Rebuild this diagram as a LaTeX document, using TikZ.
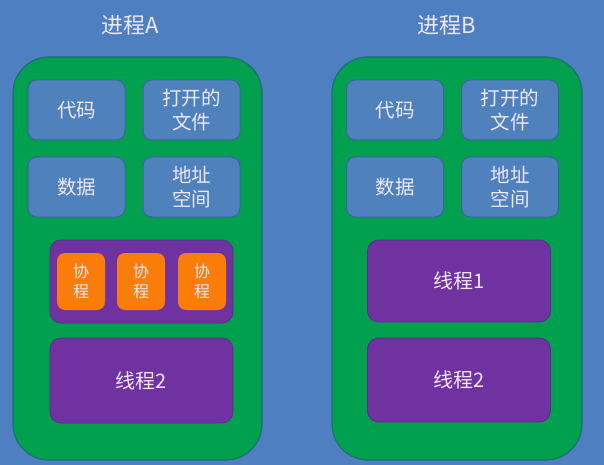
\documentclass[tikz,border=0pt]{standalone}
\usepackage{fontspec}
\setmainfont{Noto Sans CJK SC}
\definecolor{bgblue}{HTML}{4E7FC0}
\definecolor{procgreen}{HTML}{00A04E}
\definecolor{procedge}{HTML}{1E6E78}
\definecolor{boxblue}{HTML}{4F81BD}
\definecolor{boxedge}{HTML}{3A66A0}
\definecolor{thrpurple}{HTML}{7032A0}
\definecolor{thredge}{HTML}{5E2A8C}
\definecolor{coorange}{HTML}{FA7D0A}
\definecolor{txtlight}{HTML}{EEE8F4}
\begin{document}
\begin{tikzpicture}[x=1pt,y=-1pt,
  proc/.style={draw=procedge,line width=1.2pt,fill=procgreen,rounded corners=36pt,inner sep=0pt,minimum width=#1,minimum height=403pt},
  res/.style={draw=boxedge,line width=1pt,fill=boxblue,rounded corners=9pt,inner sep=0pt,minimum width=97pt,minimum height=60pt,text=txtlight,align=center,font=\fontsize{19.5}{23.5}\selectfont},
  thr/.style={draw=thredge,line width=0.8pt,fill=thrpurple,rounded corners=11pt,inner sep=0pt,minimum width=183pt,minimum height=#1,text=txtlight,font=\fontsize{20}{24}\selectfont},
  coro/.style={fill=coorange,rounded corners=8pt,inner sep=0pt,minimum width=48pt,minimum height=57pt,text=txtlight,align=center,font=\fontsize{16}{20}\selectfont},
  title/.style={text=txtlight,font=\fontsize{22}{26}\selectfont}]
\useasboundingbox[fill=bgblue] (0,0) rectangle (604,465);
% titles
\node[title] (tA) at (130,25) {进程A};
\node[title] (tB) at (447,25) {进程B};
% process containers
\node[proc=249pt] (procA) at (137.5,258.5) {};
\node[proc=250pt] (procB) at (457,258.5) {};
% process A resources
\node[res] (codeA) at (76.5,110) {代码};
\node[res] (fileA) at (191.5,110) {打开的\\文件};
\node[res] (dataA) at (76.5,187) {数据};
\node[res] (addrA) at (191.5,187) {地址\\空间};
% process B resources
\node[res] (codeB) at (395,110) {代码};
\node[res] (fileB) at (510,110) {打开的\\文件};
\node[res] (dataB) at (395,187) {数据};
\node[res] (addrB) at (510,187) {地址\\空间};
% process A threads
\node[thr=83pt] (thrA1) at (141.5,281.5) {};
\node[coro] (co1) at (81,281.5) {协\\程};
\node[coro] (co2) at (141,281.5) {协\\程};
\node[coro] (co3) at (202,281.5) {协\\程};
\node[thr=85pt] (thrA2) at (141.5,380.5) {线程2};
% process B threads
\node[thr=82pt] (thrB1) at (459,281) {线程1};
\node[thr=84pt] (thrB2) at (459,380) {线程2};
\end{tikzpicture}
\end{document}
